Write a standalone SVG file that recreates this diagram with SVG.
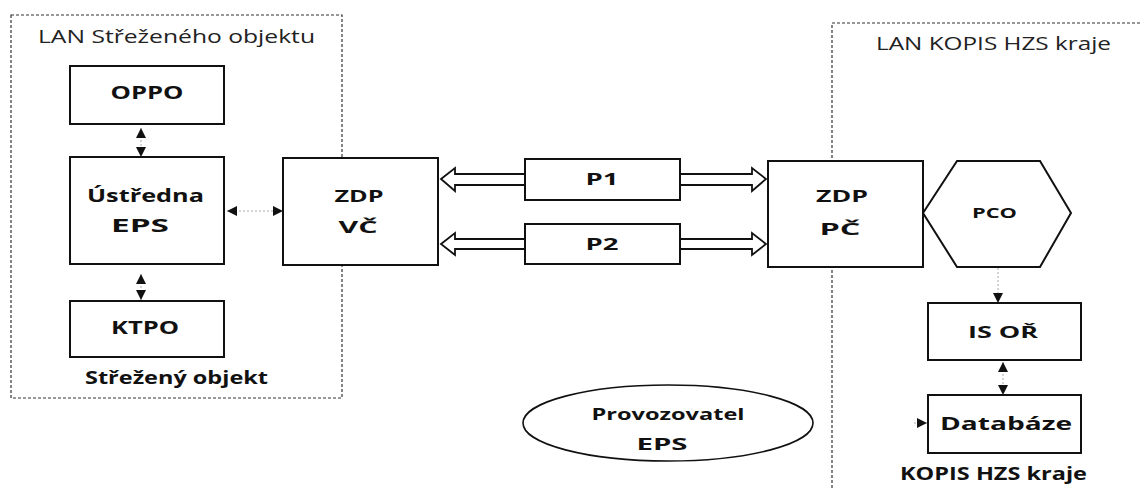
<svg xmlns="http://www.w3.org/2000/svg" width="1142" height="488" viewBox="0 0 1142 488">
<style>
.zone{fill:none;stroke:#333;stroke-width:1.2;stroke-dasharray:3 2}
.box{fill:#fff;stroke:#111;stroke-width:2}
.t{font-family:"Open Sans","Noto Sans","Liberation Sans",sans-serif;font-weight:bold;fill:#111;text-anchor:middle}
.lan{font-family:"Open Sans","Noto Sans","Liberation Sans",sans-serif;font-weight:normal;fill:#222;font-size:18px}
.con{fill:none;stroke:#aaa;stroke-width:1;stroke-dasharray:2 2}
.dbl{fill:#fff;stroke:#111;stroke-width:1.8;stroke-linejoin:miter}
</style>
<defs>
<marker id="ah" viewBox="0 0 10 10" refX="10" refY="5" markerWidth="12" markerHeight="10" markerUnits="userSpaceOnUse" orient="auto-start-reverse">
<path d="M0,0 L10,5 L0,10 z" fill="#111"/>
</marker>
</defs>
<rect width="1142" height="488" fill="#fff"/>

<g id="lan-strezeneho">
<rect class="zone" x="11" y="15" width="331" height="383"/>
<text class="lan" x="38" y="43" textLength="277" lengthAdjust="spacingAndGlyphs">LAN Střeženého objektu</text>
<text class="t" x="176.5" y="384" font-size="17" textLength="183" lengthAdjust="spacingAndGlyphs">Střežený objekt</text>
</g>

<g id="lan-kopis">
<path class="zone" d="M1150,23 H832 V495"/>
<text class="lan" x="876" y="50" textLength="235" lengthAdjust="spacingAndGlyphs">LAN KOPIS HZS kraje</text>
<text class="t" x="993.5" y="480" font-size="17" textLength="187" lengthAdjust="spacingAndGlyphs">KOPIS HZS kraje</text>
</g>

<g id="connectors">
<path class="con" d="M141,128 V157" marker-start="url(#ah)" marker-end="url(#ah)"/>
<path class="con" d="M141,274 V300" marker-start="url(#ah)" marker-end="url(#ah)"/>
<path class="con" d="M227,211 H283" marker-start="url(#ah)" marker-end="url(#ah)"/>
<path class="dbl" d="M441,179 L455,168 L455,174 L752,174 L752,168 L766,179 L752,191 L752,185 L455,185 L455,191 Z"/>
<path class="dbl" d="M441,244 L455,233 L455,239 L752,239 L752,233 L766,244 L752,255 L752,249 L455,249 L455,255 Z"/>
<path class="con" d="M998,268 V303" marker-end="url(#ah)"/>
<path class="con" d="M1003,362 V395" marker-start="url(#ah)" marker-end="url(#ah)"/>
<path class="con" d="M914,423 H927" marker-end="url(#ah)"/>
</g>

<g id="oppo">
<rect class="box" x="70" y="66" width="154" height="58"/>
<text class="t" x="147" y="99" font-size="17" textLength="73" lengthAdjust="spacingAndGlyphs">OPPO</text>
</g>

<g id="ustredna-eps">
<rect class="box" x="70" y="157" width="154" height="107"/>
<text class="t" x="145.5" y="202" font-size="17" textLength="117" lengthAdjust="spacingAndGlyphs">Ústředna</text>
<text class="t" x="140" y="232" font-size="17" textLength="58" lengthAdjust="spacingAndGlyphs">EPS</text>
</g>

<g id="ktpo">
<rect class="box" x="70" y="301" width="154" height="56"/>
<text class="t" x="145" y="334" font-size="17" textLength="68" lengthAdjust="spacingAndGlyphs">KTPO</text>
</g>

<g id="zdp-vc">
<rect class="box" x="283" y="158" width="155" height="107"/>
<text class="t" x="359" y="202" font-size="16" textLength="49" lengthAdjust="spacingAndGlyphs">ZDP</text>
<text class="t" x="358" y="233" font-size="16" textLength="39" lengthAdjust="spacingAndGlyphs">VČ</text>
</g>

<g id="p1">
<rect class="box" x="525" y="159" width="155" height="41"/>
<text class="t" x="602" y="185" font-size="16" textLength="33" lengthAdjust="spacingAndGlyphs">P1</text>
</g>

<g id="p2">
<rect class="box" x="525" y="224" width="155" height="40"/>
<text class="t" x="602" y="250" font-size="16" textLength="33" lengthAdjust="spacingAndGlyphs">P2</text>
</g>

<g id="zdp-pc">
<rect class="box" x="768" y="161" width="155" height="106"/>
<text class="t" x="842" y="202" font-size="16" textLength="52" lengthAdjust="spacingAndGlyphs">ZDP</text>
<text class="t" x="840" y="235" font-size="16" textLength="41" lengthAdjust="spacingAndGlyphs">PČ</text>
</g>

<g id="pco">
<polygon class="box" points="923,213 957,161 1040,161 1071,213 1040,267 957,267"/>
<text class="t" x="994.5" y="218" font-size="14" textLength="45" lengthAdjust="spacingAndGlyphs">PCO</text>
</g>

<g id="is-or">
<rect class="box" x="928" y="303" width="153" height="57"/>
<text class="t" x="1003" y="338" font-size="16" textLength="70" lengthAdjust="spacingAndGlyphs">IS OŘ</text>
</g>

<g id="databaze">
<rect class="box" x="928" y="395" width="153" height="58"/>
<text class="t" x="1006" y="430" font-size="17" textLength="132" lengthAdjust="spacingAndGlyphs">Databáze</text>
</g>

<g id="provozovatel-eps">
<ellipse cx="668" cy="423" rx="145" ry="38" fill="#fff" stroke="#111" stroke-width="1.6"/>
<text class="t" x="668" y="420" font-size="16" textLength="153" lengthAdjust="spacingAndGlyphs">Provozovatel</text>
<text class="t" x="662" y="450" font-size="16" textLength="51" lengthAdjust="spacingAndGlyphs">EPS</text>
</g>
</svg>
